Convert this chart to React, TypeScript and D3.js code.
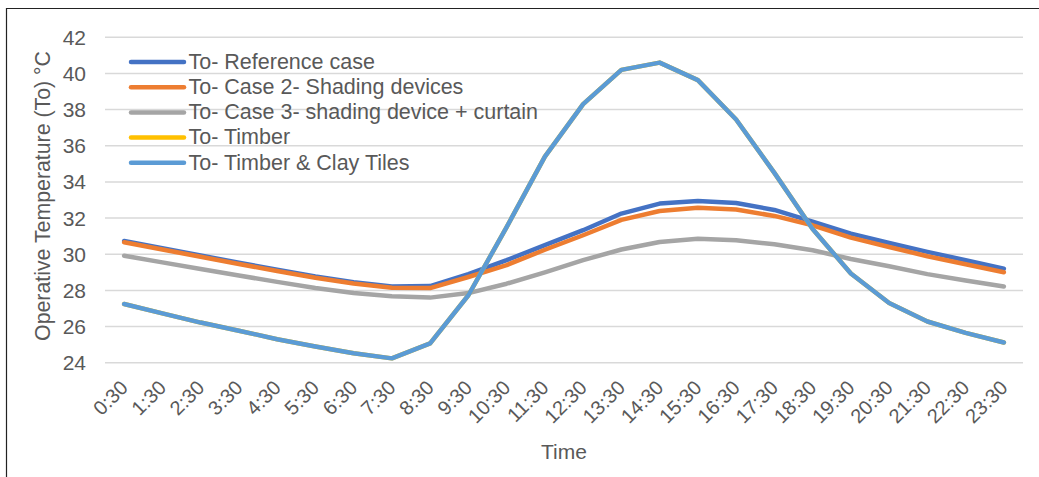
import React from "react";
import * as d3 from "d3";

const times = ["0:30","1:30","2:30","3:30","4:30","5:30","6:30","7:30","8:30","9:30","10:30","11:30","12:30","13:30","14:30","15:30","16:30","17:30","18:30","19:30","20:30","21:30","22:30","23:30"];

const referenceCase = [30.73,30.33,29.93,29.53,29.14,28.77,28.45,28.22,28.24,28.9,29.67,30.5,31.33,32.25,32.8,32.94,32.83,32.45,31.8,31.14,30.62,30.13,29.67,29.2];
const case2Shading = [30.66,30.26,29.86,29.46,29.07,28.7,28.38,28.15,28.13,28.74,29.4,30.25,31.05,31.9,32.39,32.57,32.47,32.12,31.6,30.92,30.4,29.89,29.45,29.0];
const case3Curtain = [29.92,29.55,29.18,28.82,28.47,28.13,27.85,27.67,27.6,27.85,28.37,29.0,29.67,30.26,30.68,30.85,30.77,30.55,30.22,29.74,29.34,28.9,28.55,28.22];
const timber = [27.25,26.73,26.22,25.77,25.3,24.9,24.52,24.24,25.07,27.73,31.5,35.4,38.3,40.2,40.6,39.63,37.45,34.5,31.4,28.93,27.3,26.28,25.65,25.12];
const timberClay = [27.25,26.73,26.22,25.77,25.3,24.9,24.52,24.24,25.07,27.73,31.5,35.4,38.3,40.2,40.6,39.63,37.45,34.5,31.4,28.93,27.3,26.28,25.65,25.12];

const seriesNames = ["To- Reference case","To- Case 2- Shading devices","To- Case 3- shading device + curtain","To- Timber","To- Timber & Clay Tiles"];
const seriesColors = ["#4472C4","#ED7D31","#A5A5A5","#FFC000","#5B9BD5"];
const seriesValues = [referenceCase, case2Shading, case3Curtain, timber, timberClay];
const yTicks = [24,26,28,30,32,34,36,38,40,42];

export default function App() {
  const W = 1039, H = 477;
  const x = d3.scaleBand<string>().domain(times).range([105, 1023]).padding(0);
  const y = d3.scaleLinear().domain([24, 42]).range([362.7, 37.3]);
  const cx = (t: string) => (x(t) as number) + x.bandwidth() / 2;
  const line = d3.line<number>().x((_, i) => cx(times[i])).y((v) => y(v));
  const font = "'Liberation Sans', Arial, sans-serif";
  const textColor = "#595959";

  return (
    <svg width={W} height={H} style={{ position: "absolute", left: 0, top: 0, background: "#fff" }} fontFamily={font}>
      <rect x={0} y={0} width={W} height={H} fill="#fff" />
      <path d="M6.5,477 L6.5,8.5 L1039,8.5" fill="none" stroke="#222" strokeWidth={1.2} />
      {yTicks.map((t) => (
        <g key={t}>
          <line x1={105} x2={1023} y1={y(t)} y2={y(t)} stroke="#D9D9D9" strokeWidth={1.5} />
          <text x={86} y={y(t)} dy="0.36em" textAnchor="end" fontSize={21} fill={textColor}>{t}</text>
        </g>
      ))}
      {times.map((t) => (
        <text key={t} transform={`translate(${cx(t) + 5},389) rotate(-45)`} textAnchor="end" fontSize={20} fill={textColor}>{t}</text>
      ))}
      {seriesValues.map((vals, i) => (
        <path key={i} d={line(vals) || ""} fill="none" stroke={seriesColors[i]} strokeWidth={4.5} strokeLinecap="round" strokeLinejoin="round" />
      ))}
      {seriesNames.map((n, i) => {
        const ly = 62 + i * 25.2;
        return (
          <g key={n}>
            <line x1={131} x2={184} y1={ly} y2={ly} stroke={seriesColors[i]} strokeWidth={4.5} strokeLinecap="round" />
            <text x={188.5} y={ly + 6.8} fontSize={21.5} fill={textColor}>{n}</text>
          </g>
        );
      })}
      <text transform="translate(50,196) rotate(-90)" textAnchor="middle" fontSize={21.3} fill={textColor}>Operative Temperature (To) °C</text>
      <text x={564} y={459} textAnchor="middle" fontSize={21} fill={textColor}>Time</text>
    </svg>
  );
}
